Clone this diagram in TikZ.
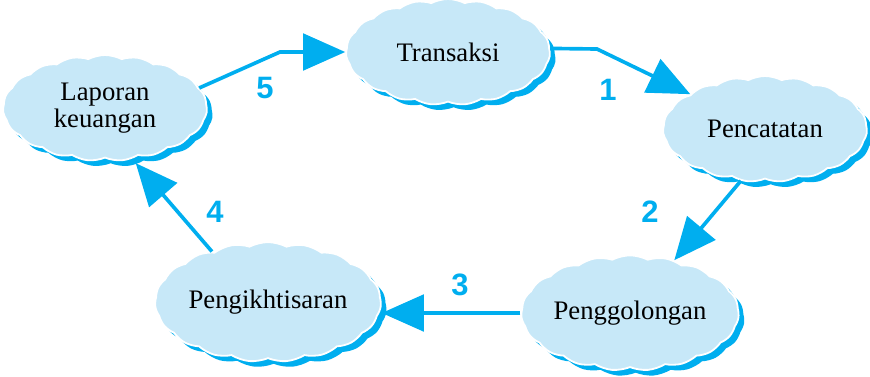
\documentclass[tikz,border=0pt]{standalone}
\usepackage{fontspec}
\setmainfont{Liberation Serif}
\newfontfamily\numfont{Liberation Sans}
\usetikzlibrary{shapes.symbols,shadows,arrows.meta}
\definecolor{cloudfill}{HTML}{C7E8F8}
\definecolor{cloudedge}{HTML}{00AEEF}

\begin{document}
\begin{tikzpicture}[x=0.025cm, y=-0.025cm,
  cloudbox/.style={cloud, cloud puffs=19, cloud puff arc=55, aspect=2,
    minimum width=5.1cm, minimum height=2.65cm, inner sep=0pt,
    fill=cloudfill, draw=white, line width=1.3pt, align=center,
    font=\fontsize{19}{21}\selectfont,
    drop shadow={shadow xshift=4pt, shadow yshift=-4pt, fill=cloudedge, opacity=1}},
  cyc/.style={draw=cloudedge, line width=2.6pt,
    -{Triangle[length=30pt, width=26pt]}},
  numlabel/.style={text=cloudedge, font=\numfont\bfseries\fontsize{22}{24}\selectfont}]
\useasboundingbox (0,0) rectangle (870,376);

\node[cloudbox] (lap) at (105,108) {Laporan\\[-2pt]keuangan};
\node[cloudbox] (tra) at (448,52) {Transaksi};
\node[cloudbox] (pen) at (765,129) {Pencatatan};
\node[cloudbox] (gol) at (630,313) {Penggolongan};
\node[cloudbox] (ikh) at (268,302) {Pengikhtisaran};

\coordinate (b5) at (280,52);
\coordinate (b1) at (597,49);

\draw[cyc] (lap.12) -- (b5) -- (tra.west);
\draw[cyc] (tra.2) -- (b1) -- (pen.155);
\draw[cyc] (pen.-115) -- (gol.50);
\draw[cyc] (gol.west) -- (ikh.east |- gol.west);
\draw[cyc, shorten >=4pt] (ikh.138) -- (lap.-62);

\node[numlabel] (n5) at (265,88) {5};
\node[numlabel] (n1) at (608,90) {1};
\node[numlabel] (n2) at (650,212) {2};
\node[numlabel] (n3) at (460,285) {3};
\node[numlabel] (n4) at (215,212) {4};
\end{tikzpicture}
\end{document}
